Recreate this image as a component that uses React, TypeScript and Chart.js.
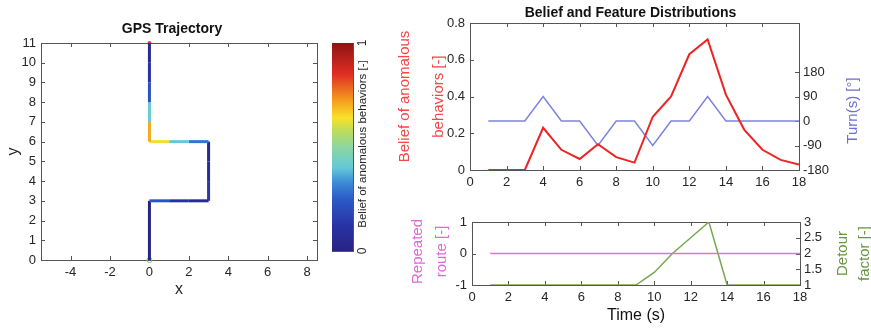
import { useEffect, useRef } from "react";
import { Chart, registerables } from "chart.js";

Chart.register(...registerables);

const FONT = "'Liberation Sans', Arial, Helvetica, sans-serif";

// ---------- data ----------
const timeSteps = [1, 2, 3, 4, 5, 6, 7, 8, 9, 10, 11, 12, 13, 14, 15, 16, 17, 18];
const beliefValues = [0, 0, 0, 0.23, 0.11, 0.06, 0.14, 0.07, 0.04, 0.29, 0.4, 0.63, 0.71, 0.41, 0.22, 0.11, 0.055, 0.03];
const turnValues = [0, 0, 0, 90, 0, 0, -90, 0, 0, -90, 0, 0, 90, 0, 0, 0, 0, 0];
const repeatedRoute = [0, 0, 0, 0, 0, 0, 0, 0, 0, 0, 0, 0, 0, 0, 0, 0, 0, 0];
const detourFactor = [1, 1, 1, 1, 1, 1, 1, 1, 1, 1.4, 2.0, 2.5, 3, 1, 1, 1, 1, 1];
const trajX = [0, 0, 0, 0, 1, 2, 3, 3, 3, 3, 2, 1, 0, 0, 0, 0, 0, 0];
const trajY = [0, 1, 2, 3, 3, 3, 3, 4, 5, 6, 6, 6, 6, 7, 8, 9, 10, 11];

const gpsXTicks = [-4, -2, 0, 2, 4, 6, 8];
const gpsYTicks = [0, 1, 2, 3, 4, 5, 6, 7, 8, 9, 10, 11];
const colorbarTicks = [0, 1];
const timeTicks = [0, 2, 4, 6, 8, 10, 12, 14, 16, 18];
const beliefTicks = [0, 0.2, 0.4, 0.6, 0.8];
const turnTicks = [-180, -90, 0, 90, 180];
const repeatedTicks = [-1, 0, 1];
const detourTicks = [1, 1.5, 2, 2.5, 3];

// ---------- styles ----------
const CMAP: [number, number[]][] = [
  [0.0, [40, 35, 130]],
  [0.12, [40, 50, 165]],
  [0.25, [45, 90, 200]],
  [0.33, [60, 140, 215]],
  [0.4, [100, 200, 215]],
  [0.5, [140, 215, 160]],
  [0.58, [190, 220, 90]],
  [0.64, [250, 225, 40]],
  [0.72, [245, 160, 30]],
  [0.85, [225, 45, 35]],
  [1.0, [140, 20, 20]],
];

function colorAt(v: number): string {
  const t = Math.max(0, Math.min(1, v));
  for (let i = 1; i < CMAP.length; i++) {
    const [p1, c1] = CMAP[i];
    const [p0, c0] = CMAP[i - 1];
    if (t <= p1) {
      const f = (t - p0) / (p1 - p0);
      const c = c0.map((x, k) => Math.round(x + (c1[k] - x) * f));
      return `rgb(${c[0]},${c[1]},${c[2]})`;
    }
  }
  const c = CMAP[CMAP.length - 1][1];
  return `rgb(${c[0]},${c[1]},${c[2]})`;
}

const RED = "rgb(238,35,35)";
const BLUE = "rgb(125,132,220)";
const MAGENTA = "rgb(226,112,214)";
const GREEN = "rgb(118,168,80)";
const RED_T = "rgb(244,70,70)";
const BLUE_T = "rgb(110,112,208)";
const MAGENTA_T = "rgb(226,104,214)";
const GREEN_T = "rgb(104,150,64)";
const TICK_COLOR = "#262626";
const FRAME_COLOR = "#555";

const tickFont = { family: FONT, size: 13 };

function fixedTicks(values: number[]) {
  return (scale: any) => {
    scale.ticks = values.map((v) => ({ value: v }));
  };
}

type TickSpec = { scale: string; sides: string[] };

function makeFramePlugin(specs: TickSpec[], tickLen = 4) {
  return {
    id: "frame",
    beforeDatasetsDraw(chart: any) {
      const { ctx, chartArea: a } = chart;
      ctx.save();
      ctx.strokeStyle = FRAME_COLOR;
      ctx.lineWidth = 1;
      ctx.beginPath();
      for (const spec of specs) {
        const scale = chart.scales[spec.scale];
        if (!scale) continue;
        for (const t of scale.ticks) {
          const p = Math.round(scale.getPixelForValue(t.value)) + 0.5;
          for (const side of spec.sides) {
            if (side === "bottom") { ctx.moveTo(p, a.bottom); ctx.lineTo(p, a.bottom - tickLen); }
            if (side === "top") { ctx.moveTo(p, a.top); ctx.lineTo(p, a.top + tickLen); }
            if (side === "left") { ctx.moveTo(a.left, p); ctx.lineTo(a.left + tickLen, p); }
            if (side === "right") { ctx.moveTo(a.right, p); ctx.lineTo(a.right - tickLen, p); }
          }
        }
      }
      ctx.stroke();
      ctx.strokeRect(
        Math.round(a.left) + 0.5,
        Math.round(a.top) + 0.5,
        Math.round(a.right - a.left),
        Math.round(a.bottom - a.top)
      );
      ctx.restore();
    },
  };
}

type SideTitle = {
  scale: string;
  lines: string[];
  offsets: number[];
  color: string;
  size: number;
  shift?: number;
  values?: number[];
};

function makeSideTitlePlugin(items: SideTitle[]) {
  return {
    id: "sideTitles",
    afterDraw(chart: any) {
      const { ctx, chartArea: a } = chart;
      for (const it of items) {
        const scale = chart.scales[it.scale];
        if (!scale) continue;
        ctx.save();
        ctx.font = `${it.size}px ${FONT}`;
        ctx.fillStyle = it.color;
        ctx.textAlign = "center";
        ctx.textBaseline = "middle";
        if (it.values) {
          it.values.forEach((v) => {
            const y = scale.getPixelForValue(v);
            ctx.save();
            ctx.translate(scale.left + it.offsets[0], y);
            ctx.rotate(-Math.PI / 2);
            ctx.fillText(String(v), 0, 0);
            ctx.restore();
          });
        } else {
          const cy = (a.top + a.bottom) / 2 + (it.shift || 0);
          it.lines.forEach((line, i) => {
            ctx.save();
            ctx.translate(scale.left + it.offsets[i], cy);
            ctx.rotate(-Math.PI / 2);
            ctx.fillText(line, 0, 0);
            ctx.restore();
          });
        }
        ctx.restore();
      }
    },
  };
}

const hiddenGrid = { display: false };
const hiddenBorder = { display: false };
const tickOpts = (padding: number) => ({
  font: tickFont,
  color: TICK_COLOR,
  padding,
  autoSkip: false,
  maxRotation: 0,
  callback: (v: any) => String(v),
});

export default function App() {
  const gpsRef = useRef<HTMLCanvasElement>(null);
  const cbRef = useRef<HTMLCanvasElement>(null);
  const beliefRef = useRef<HTMLCanvasElement>(null);
  const featRef = useRef<HTMLCanvasElement>(null);

  useEffect(() => {
    Chart.defaults.font.family = FONT;
    const charts: Chart[] = [];

    // ----- GPS trajectory -----
    const trajPoints = trajX.map((x, i) => ({ x, y: trajY[i] }));
    charts.push(
      new Chart(gpsRef.current!, {
        type: "line",
        data: {
          datasets: [
            {
              data: trajPoints,
              borderWidth: 3,
              pointRadius: 0,
              borderColor: colorAt(0),
              segment: { borderColor: (c: any) => colorAt(beliefValues[c.p0DataIndex]) },
              borderCapStyle: "butt",
              borderJoinStyle: "miter",
            } as any,
            {
              data: [trajPoints[0]],
              pointRadius: 2.5,
              pointBorderWidth: 1,
              pointBorderColor: "rgb(110,200,110)",
              pointBackgroundColor: "rgba(0,0,0,0)",
              showLine: false,
              clip: false,
            } as any,
            {
              data: [trajPoints[trajPoints.length - 1]],
              pointRadius: 2,
              pointBorderWidth: 0,
              pointBackgroundColor: "rgb(240,60,60)",
              showLine: false,
              clip: false,
            } as any,
          ],
        },
        options: {
          animation: false,
          responsive: false,
          maintainAspectRatio: false,
          layout: { padding: 0 },
          plugins: {
            legend: { display: false },
            tooltip: { enabled: false },
            title: {
              display: true,
              text: "GPS Trajectory",
              color: "#111",
              font: { family: FONT, size: 14, weight: "bold", lineHeight: "16px" } as any,
              padding: { top: 21, bottom: 6 },
            },
          },
          scales: {
            x: {
              type: "linear",
              min: -5.5,
              max: 8.5,
              afterBuildTicks: fixedTicks(gpsXTicks),
              afterFit: (s: any) => { s.height = 50; },
              grid: { ...hiddenGrid, drawTicks: false },
              border: hiddenBorder,
              ticks: tickOpts(5),
              title: { display: true, text: "x", color: TICK_COLOR, font: { family: FONT, size: 16 }, padding: { top: 0, bottom: 11 } },
            },
            y: {
              type: "linear",
              min: 0,
              max: 11,
              afterBuildTicks: fixedTicks(gpsYTicks),
              afterFit: (s: any) => { s.width = 41; },
              grid: { ...hiddenGrid, drawTicks: false },
              border: hiddenBorder,
              ticks: tickOpts(5),
              title: { display: true, text: "y", color: TICK_COLOR, font: { family: FONT, size: 16 }, padding: { top: 4, bottom: 0 } },
            },
            yPad: {
              type: "linear",
              position: "right",
              afterFit: (s: any) => { s.width = 27; },
              grid: hiddenGrid,
              border: hiddenBorder,
              ticks: { display: false },
            },
          },
        } as any,
        plugins: [
          makeFramePlugin([
            { scale: "x", sides: ["bottom", "top"] },
            { scale: "y", sides: ["left", "right"] },
          ]),
        ],
      })
    );

    // ----- colorbar -----
    charts.push(
      new Chart(cbRef.current!, {
        type: "bar",
        data: {
          labels: [""],
          datasets: [
            {
              data: [[colorbarTicks[0], colorbarTicks[1]]],
              barPercentage: 1,
              categoryPercentage: 1,
              borderWidth: 0,
              backgroundColor: (c: any) => {
                const ch = c.chart;
                const a = ch.chartArea;
                if (!a) return "rgba(0,0,0,0)";
                const g = ch.ctx.createLinearGradient(0, a.bottom, 0, a.top);
                CMAP.forEach(([p, col]) => g.addColorStop(p, `rgb(${col[0]},${col[1]},${col[2]})`));
                return g;
              },
            } as any,
          ],
        },
        options: {
          animation: false,
          responsive: false,
          maintainAspectRatio: false,
          layout: { padding: { left: 12, top: 43, bottom: 59, right: 0 } },
          plugins: { legend: { display: false }, tooltip: { enabled: false } },
          scales: {
            x: { display: false },
            y: {
              type: "linear",
              position: "right",
              min: 0,
              max: 1,
              afterFit: (s: any) => { s.width = 37; },
              grid: hiddenGrid,
              border: hiddenBorder,
              ticks: { display: false },
            },
          },
        } as any,
        plugins: [
          makeFramePlugin([]),
          makeSideTitlePlugin([
            { scale: "y", lines: ["Belief of anomalous behaviors [-]"], offsets: [10], color: TICK_COLOR, size: 11.5, shift: -3 },
            { scale: "y", lines: [], offsets: [10], color: TICK_COLOR, size: 12, values: colorbarTicks },
          ]),
        ],
      })
    );

    // ----- belief & turn -----
    charts.push(
      new Chart(beliefRef.current!, {
        type: "line",
        data: {
          datasets: [
            {
              data: timeSteps.map((t, i) => ({ x: t, y: beliefValues[i] })),
              yAxisID: "y",
              borderColor: RED,
              borderWidth: 2,
              pointRadius: 0,
            },
            {
              data: timeSteps.map((t, i) => ({ x: t, y: turnValues[i] })),
              yAxisID: "y1",
              borderColor: BLUE,
              borderWidth: 1.5,
              pointRadius: 0,
            },
          ],
        },
        options: {
          animation: false,
          responsive: false,
          maintainAspectRatio: false,
          layout: { padding: 0 },
          plugins: {
            legend: { display: false },
            tooltip: { enabled: false },
            title: {
              display: true,
              text: "Belief and Feature Distributions",
              color: "#111",
              font: { family: FONT, size: 14, weight: "bold", lineHeight: "16px" } as any,
              padding: { top: 5, bottom: 2 },
            },
          },
          scales: {
            x: {
              type: "linear",
              min: 0,
              max: 18,
              afterBuildTicks: fixedTicks(timeTicks),
              afterFit: (s: any) => { s.height = 20; },
              grid: { ...hiddenGrid, drawTicks: false },
              border: hiddenBorder,
              ticks: tickOpts(5),
            },
            y: {
              type: "linear",
              position: "left",
              min: 0,
              max: 0.8,
              afterBuildTicks: fixedTicks(beliefTicks),
              afterFit: (s: any) => { s.width = 80; },
              grid: { ...hiddenGrid, drawTicks: false },
              border: hiddenBorder,
              ticks: tickOpts(5),
            },
            y1: {
              type: "linear",
              position: "right",
              min: -180,
              max: 360,
              afterBuildTicks: fixedTicks(turnTicks),
              afterFit: (s: any) => { s.width = 72; },
              grid: { ...hiddenGrid, drawTicks: false },
              border: hiddenBorder,
              ticks: tickOpts(4),
            },
          },
        } as any,
        plugins: [
          makeFramePlugin([
            { scale: "x", sides: ["bottom", "top"] },
            { scale: "y", sides: ["left"] },
            { scale: "y1", sides: ["right"] },
          ]),
          makeSideTitlePlugin([
            { scale: "y", lines: ["Belief of anomalous", "behaviors [-]"], offsets: [15, 49], color: RED_T, size: 15, shift: 0 },
            { scale: "y1", lines: ["Turn(s) [°]"], offsets: [54], color: BLUE_T, size: 15, shift: 14 },
          ]),
        ],
      })
    );

    // ----- repeated route & detour -----
    charts.push(
      new Chart(featRef.current!, {
        type: "line",
        data: {
          datasets: [
            {
              data: timeSteps.map((t, i) => ({ x: t, y: repeatedRoute[i] })),
              yAxisID: "y",
              borderColor: MAGENTA,
              borderWidth: 1.5,
              pointRadius: 0,
            },
            {
              data: timeSteps.map((t, i) => ({ x: t, y: detourFactor[i] })),
              yAxisID: "y1",
              borderColor: GREEN,
              borderWidth: 1.5,
              pointRadius: 0,
            },
          ],
        },
        options: {
          animation: false,
          responsive: false,
          maintainAspectRatio: false,
          layout: { padding: { top: 27 } },
          plugins: { legend: { display: false }, tooltip: { enabled: false } },
          scales: {
            x: {
              type: "linear",
              min: 0,
              max: 18,
              afterBuildTicks: fixedTicks(timeTicks),
              afterFit: (s: any) => { s.height = 45; },
              grid: { ...hiddenGrid, drawTicks: false },
              border: hiddenBorder,
              ticks: tickOpts(5),
              title: { display: true, text: "Time (s)", color: "#111", font: { family: FONT, size: 16 }, padding: { top: 0, bottom: 5 } },
            },
            y: {
              type: "linear",
              position: "left",
              min: -1,
              max: 1,
              afterBuildTicks: fixedTicks(repeatedTicks),
              afterFit: (s: any) => { s.width = 82; },
              grid: { ...hiddenGrid, drawTicks: false },
              border: hiddenBorder,
              ticks: tickOpts(5),
            },
            y1: {
              type: "linear",
              position: "right",
              min: 1,
              max: 3,
              afterBuildTicks: fixedTicks(detourTicks),
              afterFit: (s: any) => { s.width = 71; },
              grid: { ...hiddenGrid, drawTicks: false },
              border: hiddenBorder,
              ticks: tickOpts(4),
            },
          },
        } as any,
        plugins: [
          makeFramePlugin([
            { scale: "x", sides: ["bottom", "top"] },
            { scale: "y", sides: ["left"] },
            { scale: "y1", sides: ["right"] },
          ]),
          makeSideTitlePlugin([
            { scale: "y", lines: ["Repeated", "route [-]"], offsets: [28, 52], color: MAGENTA_T, size: 15, shift: -2 },
            { scale: "y1", lines: ["Detour", "factor [-]"], offsets: [43, 65], color: GREEN_T, size: 15, shift: 0 },
          ]),
        ],
      })
    );

    return () => charts.forEach((c) => c.destroy());
  }, []);

  const abs = (left: number, top: number, w: number, h: number) => ({
    position: "absolute" as const,
    left,
    top,
    width: w,
    height: h,
  });

  return (
    <div style={{ position: "absolute", left: 0, top: 0, width: 871, height: 330, background: "#fff", overflow: "hidden" }}>
      <canvas ref={gpsRef} width={344} height={310} style={abs(0, 0, 344, 310)} />
      <canvas ref={cbRef} width={70} height={310} style={abs(320, 0, 70, 310)} />
      <canvas ref={beliefRef} width={481} height={190} style={abs(390, 0, 481, 190)} />
      <canvas ref={featRef} width={481} height={135} style={abs(390, 195, 481, 135)} />
    </div>
  );
}
